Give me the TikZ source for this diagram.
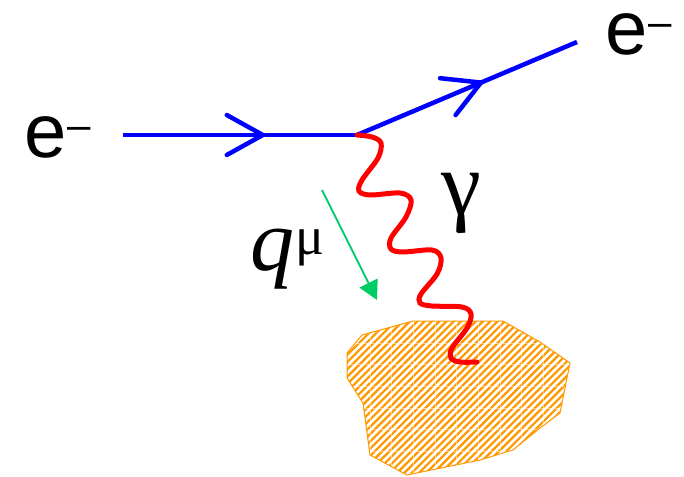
\documentclass[tikz,border=0pt]{standalone}
\usepackage{fontspec}
\setmainfont{Liberation Sans}
\newfontfamily\serif{Liberation Serif}
\usetikzlibrary{arrows.meta,decorations.markings}
\definecolor{eblue}{RGB}{0,0,255}
\definecolor{pred}{RGB}{255,0,0}
\definecolor{qgreen}{RGB}{0,204,102}
\definecolor{blobor}{RGB}{255,153,0}
\begin{document}
\begin{tikzpicture}[x=1pt,y=-1pt,
  fermion/.style={draw=eblue,line width=4.5pt},
  barb/.style={decoration={markings,mark=at position #1 with {\arrow{Straight Barb[length=36pt,width=40pt,line width=4.5pt,round]}}},postaction={decorate}},
  photon/.style={draw=pred,line width=5pt,line cap=round},
  qarrow/.style={draw=qgreen,line width=2pt,-{Triangle[length=19pt,width=20pt]},fill=qgreen},
  big/.style={font=\fontsize{76}{76}\selectfont,anchor=base west,inner sep=0pt},
]
\useasboundingbox (0,0) rectangle (684,476);
% blob
\def\blobpath{(347,353) -- (362,335) -- (413,321) -- (503,321) -- (540,342) -- (570,363) -- (560,413) -- (540,428) -- (513,450) -- (480,460) -- (407,475) -- (370,455) -- (363,403) -- (347,378) -- cycle}
\begin{scope}
  \clip \blobpath;
  \fill[blobor] (330,300) rectangle (600,480);
  \foreach \c in {640,647.3,...,1070}
    \draw[white,line width=2.6pt] (\c-300,300) -- (\c-480,480);
  \foreach \gx in {370,391.7,...,560}
    \draw[white,opacity=0.5,line width=1pt] (\gx,300) -- (\gx,480);
  \foreach \gy in {343,364.7,...,476}
    \draw[white,opacity=0.5,line width=1pt] (330,\gy) -- (600,\gy);
\end{scope}
\draw[blobor,line width=1pt] \blobpath;
% fermion lines
\coordinate (in) at (123,135);
\coordinate (v) at (357,135);
\coordinate (out) at (577,42);
\draw[fermion,barb=0.607] (in) -- (v);
\draw[fermion,barb=0.573] (v) -- (out);
% photon
\draw[photon] plot[smooth,tension=0.55] coordinates {(v) (372,137) (381,143) (378,158) (362,180) (359,191) (370,195) (400,193) (411,200) (406,217) (391,238) (391,249) (403,252) (432,250) (441,258) (437,274) (421,294) (420,303) (432,306) (462,307) (471,314) (467,328) (452,348) (451,358) (460,362) (477,362)};
% momentum arrow
\coordinate (qs) at (322,190);
\coordinate (qe) at (377,300);
\draw[qarrow] (qs) -- (qe);
% labels
\node[big] (ein) at (24,157) {\smash{e\kern1pt\raisebox{18pt}{\fontsize{42}{42}\selectfont –}}};
\node[big] (eout) at (605,55) {\smash{e\kern1pt\raisebox{18pt}{\fontsize{42}{42}\selectfont –}}};
\node[anchor=base west,inner sep=0pt,font=\serif\fontsize{90}{90}\selectfont] (gam) at (441,214) {γ};
\node[anchor=base west,inner sep=0pt,font=\serif\fontsize{88}{88}\selectfont] (qmu) at (250,270) {\itshape q\kern1pt\raisebox{16pt}{\upshape\fontsize{54}{54}\selectfont μ}};
\end{tikzpicture}
\end{document}
